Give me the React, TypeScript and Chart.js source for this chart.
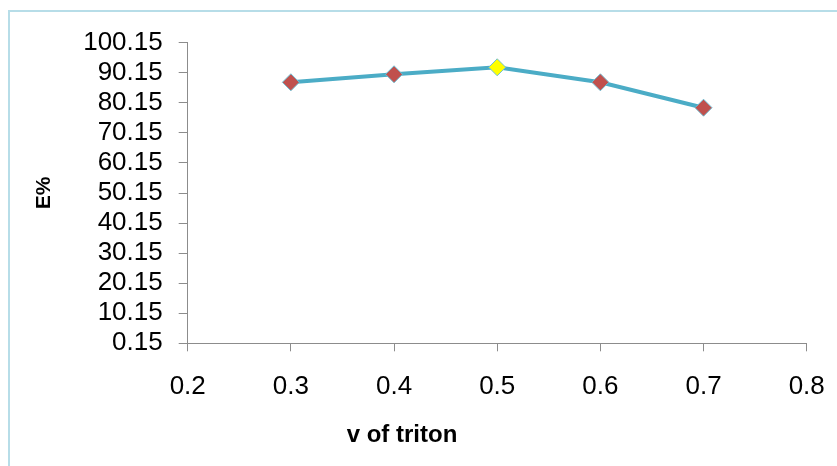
import React, { useEffect, useRef } from "react";
import { Chart, registerables } from "chart.js";

Chart.register(...registerables);

const xValues = [0.3, 0.4, 0.5, 0.6, 0.7];
const eValues = [86.98, 89.64, 91.97, 86.98, 78.53];
const pointColors = ["#c0504d", "#c0504d", "#ffff00", "#c0504d", "#c0504d"];
const xTicks = [0.2, 0.3, 0.4, 0.5, 0.6, 0.7, 0.8];
const yTicks = [0.15, 10.15, 20.15, 30.15, 40.15, 50.15, 60.15, 70.15, 80.15, 90.15, 100.15];
const X_TITLE = "v of triton";
const Y_TITLE = "E%";

const FONT = '"Liberation Sans", Arial, sans-serif';

const xTitlePlugin = {
  id: "xTitleOffset",
  afterDraw(chart: any) {
    const ctx = chart.ctx;
    ctx.save();
    ctx.font = `bold 24px ${FONT}`;
    ctx.fillStyle = "#000";
    ctx.textAlign = "center";
    ctx.textBaseline = "middle";
    ctx.fillText(X_TITLE, 392, 423);
    ctx.restore();
  },
};

export default function App() {
  const ref = useRef<HTMLCanvasElement | null>(null);

  useEffect(() => {
    if (!ref.current) return;
    const chart = new Chart(ref.current, {
      type: "line",
      data: {
        datasets: [
          {
            data: xValues.map((x, i) => ({ x, y: eValues[i] })),
            borderColor: "#4bacc6",
            borderWidth: 4,
            pointStyle: "rectRot",
            pointRadius: 8.5,
            pointBackgroundColor: pointColors,
            pointBorderColor: "#6fbfd4",
            pointBorderWidth: 1,
            tension: 0,
            fill: false,
          },
        ],
      },
      options: {
        responsive: false,
        animation: false,
        events: [],
        layout: { padding: { top: 30.7, right: 30.3, left: 0, bottom: 0 } },
        plugins: {
          legend: { display: false },
          tooltip: { enabled: false },
          title: { display: false },
        },
        scales: {
          x: {
            type: "linear",
            min: 0.2,
            max: 0.8,
            afterBuildTicks: (s: any) => {
              s.ticks = xTicks.map((v) => ({ value: v }));
            },
            afterFit: (s: any) => {
              s.height = 122.7;
              s.paddingLeft = 0;
              s.paddingRight = 0;
            },
            ticks: {
              color: "#000",
              font: { family: FONT, size: 26 },
              padding: 20,
              maxRotation: 0,
              autoSkip: false,
              callback: (v: any) => Number(v).toFixed(1),
            },
            grid: {
              drawOnChartArea: false,
              drawTicks: true,
              tickLength: 8,
              color: "#8c8c8c",
            },
            border: { color: "#8c8c8c", width: 1 },
          },
          y: {
            type: "linear",
            min: 0.15,
            max: 100.15,
            afterBuildTicks: (s: any) => {
              s.ticks = yTicks.map((v) => ({ value: v }));
            },
            afterFit: (s: any) => {
              s.width = 177.7;
              s.paddingTop = 0;
              s.paddingBottom = 0;
            },
            ticks: {
              color: "#000",
              font: { family: FONT, size: 26 },
              padding: 16,
              autoSkip: false,
              callback: (v: any) => Number(v).toFixed(2),
            },
            grid: {
              drawOnChartArea: false,
              drawTicks: true,
              tickLength: 9,
              color: "#8c8c8c",
            },
            border: { color: "#8c8c8c", width: 1 },
            title: {
              display: true,
              text: Y_TITLE,
              color: "#000",
              font: { family: FONT, size: 21, weight: "bold" },
              padding: { top: 21.4, bottom: 0 },
            },
          },
        },
      },
      plugins: [xTitlePlugin],
    });
    return () => chart.destroy();
  }, []);

  return (
    <div
      style={{
        position: "fixed",
        left: 8,
        top: 10,
        width: 829,
        height: 456,
        borderLeft: "2px solid #b7dde8",
        borderTop: "2px solid #b7dde8",
        boxSizing: "border-box",
        background: "#fff",
      }}
    >
      <canvas ref={ref} width={827} height={454} style={{ display: "block" }} />
    </div>
  );
}
